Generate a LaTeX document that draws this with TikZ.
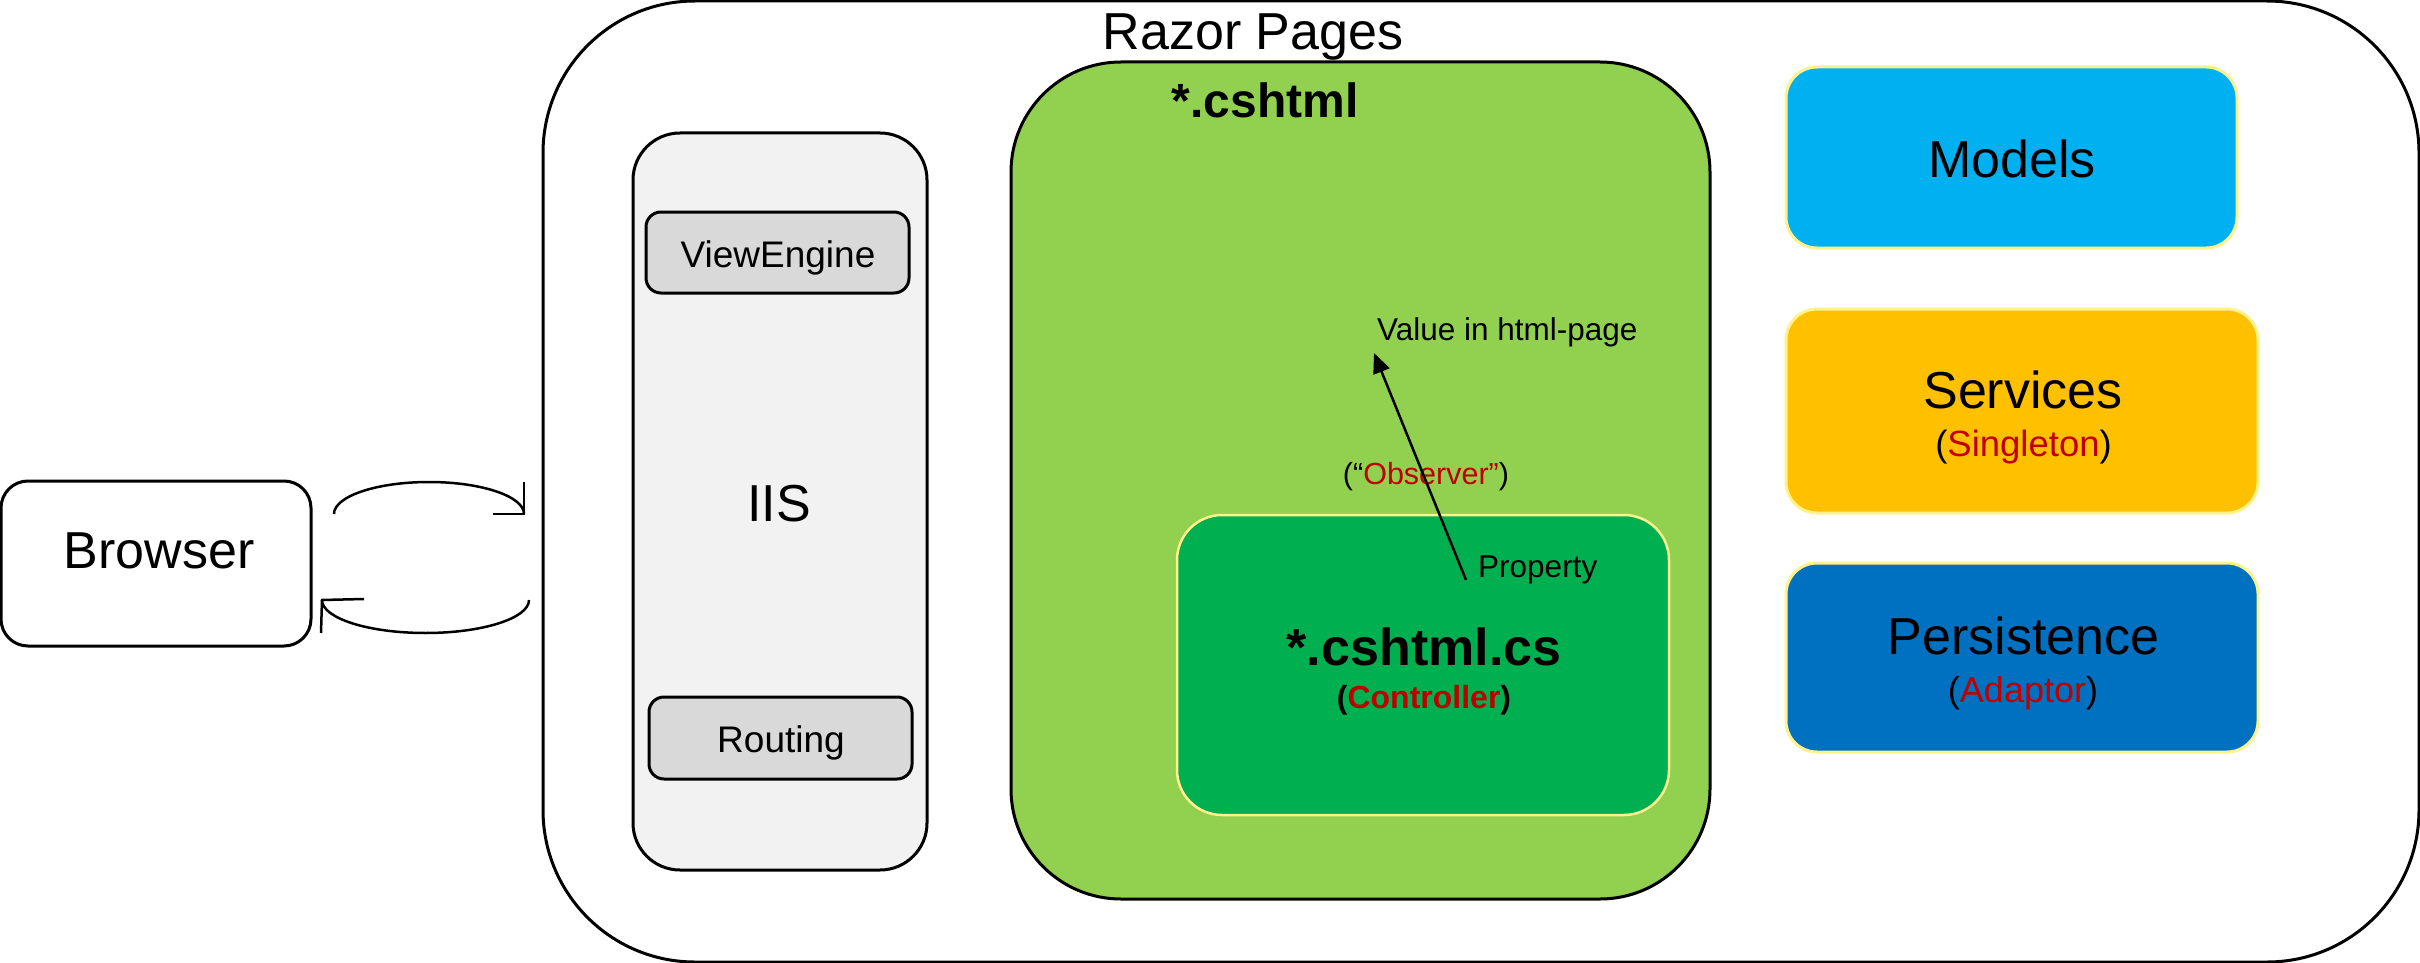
\documentclass[tikz,border=0pt]{standalone}
\usepackage{fontspec}
\setmainfont{Liberation Sans}
\usetikzlibrary{arrows.meta}

\definecolor{pagegreen}{HTML}{92D050}
\definecolor{codegreen}{HTML}{00B050}
\definecolor{modelblue}{HTML}{00B0F0}
\definecolor{serviceorange}{HTML}{FFC000}
\definecolor{persistblue}{HTML}{0070C0}
\definecolor{paleyellow}{HTML}{FFF28C}
\definecolor{accentred}{HTML}{C00000}
\definecolor{iisgrey}{HTML}{F2F2F2}
\definecolor{partgrey}{HTML}{D9D9D9}

\newcommand{\fs}[1]{\fontsize{#1pt}{#1pt}\selectfont}

\begin{document}
\begin{tikzpicture}[x=1pt,y=-1pt,
  outline/.style={draw=black, line width=3pt, inner sep=0pt},
  frame/.style={outline, rounded corners=152pt},
  browserbox/.style={outline, fill=white, rounded corners=27pt},
  iisbox/.style={outline, fill=iisgrey, rounded corners=47pt},
  partbox/.style={outline, fill=partgrey, rounded corners=15pt},
  pagebox/.style={outline, fill=pagegreen, rounded corners=110pt},
  layerbox/.style={draw=paleyellow, line width=3pt, inner sep=0pt, rounded corners=31pt},
  codebox/.style={draw=paleyellow, line width=2.5pt, fill=codegreen, inner sep=0pt, rounded corners=45pt},
  label/.style={inner sep=0pt, anchor=base},
  leftlabel/.style={inner sep=0pt, anchor=base west},
  flow/.style={line width=2.5pt},
]
\useasboundingbox (0,0) rectangle (2420,963);
\fill[white] (0,0) rectangle (2420,963);

% Razor Pages container
\node[frame, minimum width=1876pt, minimum height=961pt] (razorframe) at (1481,481.5) {};
\node[label, font=\fs{52}] (razortitle) at (1253,50) {Razor Pages};

% Browser
\node[browserbox, minimum width=310pt, minimum height=165pt] (browser) at (156,563.5) {};
\node[label, font=\fs{52}] (browsertext) at (159,568) {Browser};

% IIS column
\node[iisbox, minimum width=294pt, minimum height=737pt] (iis) at (780,501.5) {};
\node[partbox, minimum width=263pt, minimum height=81pt] (viewengine) at (777.5,252.5) {};
\node[label, font=\fs{37}] (viewenginetext) at (778,267) {ViewEngine};
\node[partbox, minimum width=263pt, minimum height=82pt] (routing) at (780.5,738) {};
\node[label, font=\fs{37}] (routingtext) at (781,752) {Routing};
\node[label, font=\fs{52}] (iistext) at (779,521) {IIS};

% Request / response arcs between browser and IIS
\coordinate (reqstart) at (334,514);
\coordinate (reqtip) at (524,514);
\coordinate (resstart) at (529,600);
\coordinate (restip) at (322,600);
\draw[flow] (reqstart) arc[start angle=180, end angle=360, x radius=95, y radius=32];
\draw[flow] (524,482) -- (reqtip) -- (493,514);
\draw[flow] (resstart) arc[start angle=0, end angle=180, x radius=103.5, y radius=33];
\draw[flow] (364,599) -- (restip) -- (321,633);

% Page view (*.cshtml)
\node[pagebox, minimum width=699pt, minimum height=837pt] (cshtml) at (1360.5,480.5) {};
\node[label, font=\bfseries\fs{48}] (cshtmltext) at (1265,118) {*.cshtml};
\node[leftlabel, font=\fs{31.5}] (valuetext) at (1377,340) {Value in html-page};
\node[label, font=\fs{30.5}] (observertext) at (1426,484) {(“\textcolor{accentred}{Observer”})};

% Page model (*.cshtml.cs)
\node[codebox, minimum width=492pt, minimum height=300pt] (cshtmlcs) at (1423,665) {};
\node[leftlabel, font=\fs{31.5}] (propertytext) at (1478,577) {Property};
\node[label, font=\bfseries\fs{52}] (cshtmlcstext) at (1424,665) {*.cshtml.cs};
\node[label, font=\bfseries\fs{32}] (controllertext) at (1424,708) {(\textcolor{accentred}{Controller})};

% Property bound to the page
\coordinate (propfoot) at (1466,580);
\coordinate (valuetip) at (1374,353);
\draw[line width=2.5pt, -{Triangle[length=20pt, width=17pt]}] (propfoot) -- (valuetip);

% Application layers
\node[layerbox, fill=modelblue, minimum width=451pt, minimum height=181pt] (models) at (2011.5,157.5) {};
\node[label, font=\fs{52}] (modelstext) at (2012,177) {Models};

\node[layerbox, fill=serviceorange, minimum width=472pt, minimum height=204pt] (services) at (2022,411) {};
\node[label, font=\fs{52}] (servicestext) at (2023,408) {Services};
\node[label, font=\fs{36.5}] (singletontext) at (2023.5,456) {(\textcolor{accentred}{Singleton})};

\node[layerbox, fill=persistblue, minimum width=472pt, minimum height=189pt] (persistence) at (2022,657.5) {};
\node[label, font=\fs{52}] (persistencetext) at (2023.5,654) {Persistence};
\node[label, font=\fs{36}] (adaptortext) at (2023,702) {(\textcolor{accentred}{Adaptor})};
\end{tikzpicture}
\end{document}
